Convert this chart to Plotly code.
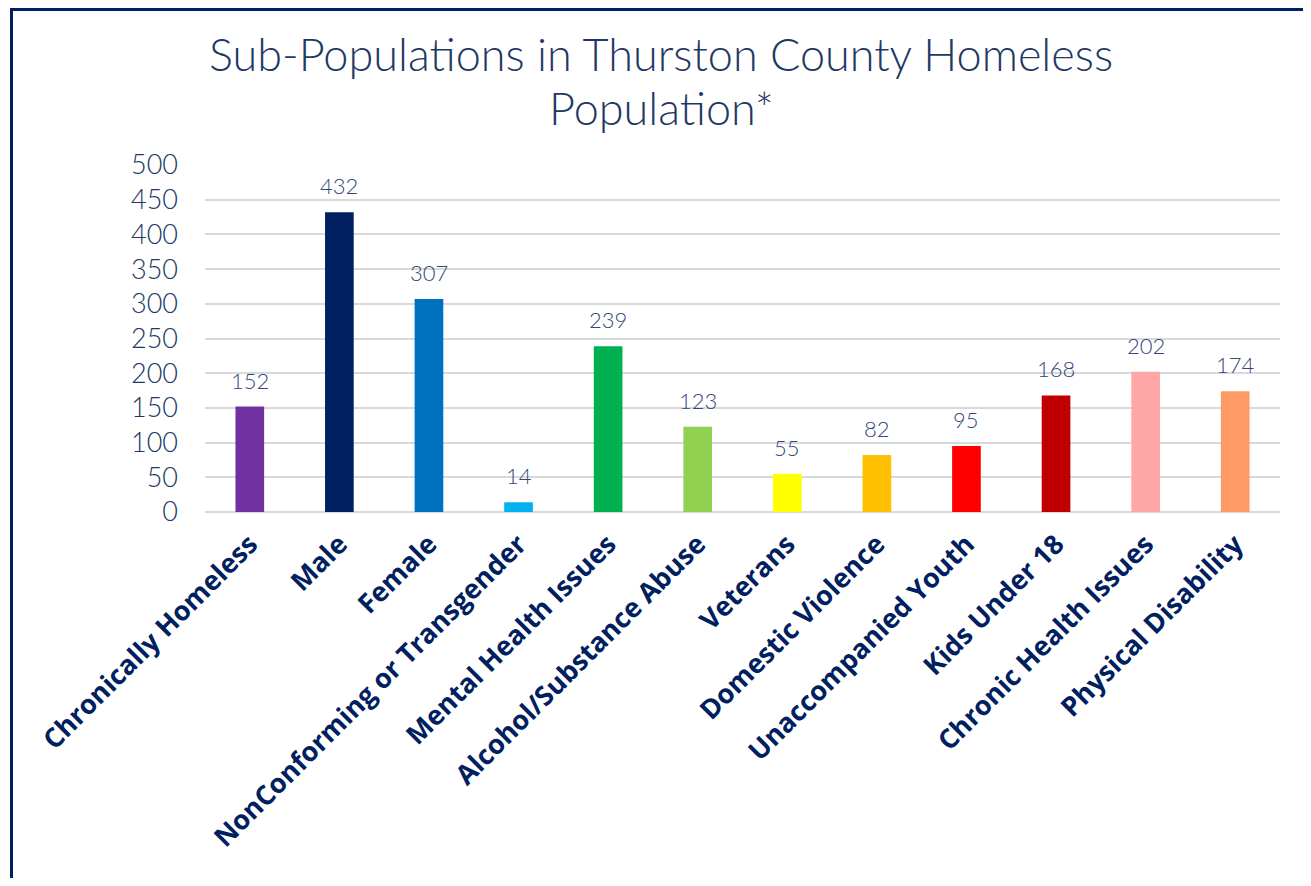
import plotly.graph_objects as go

categories = ["Chronically Homeless", "Male", "Female", "NonConforming or Transgender",
              "Mental Health Issues", "Alcohol/Substance Abuse", "Veterans",
              "Domestic Violence", "Unaccompanied Youth", "Kids Under 18",
              "Chronic Health Issues", "Physical Disability"]
counts = [152, 432, 307, 14, 239, 123, 55, 82, 95, 168, 202, 174]
bar_colors = ["#7030A0", "#002060", "#0070C0", "#00B0F0", "#00B050", "#92D050",
              "#FFFF00", "#FFC000", "#FF0000", "#C00000", "#FFA7A7", "#FF9966"]
title_lines = ["Sub-Populations in Thurston County Homeless", "Population*"]

navy = "#1F3864"
# the page body adds an 8px margin, so the figure is kept smaller to avoid scrollbars
W, H = 1303, 870
L, R, T, B = 197, 31, 157, 366


def fx(p):
    # figure pixel -> paper x
    return (p - L) / (W - L - R)


def fy(p):
    # figure pixel -> paper y
    return (H - B - p) / (H - T - B)


fig = go.Figure(go.Bar(x=categories, y=counts, marker_color=bar_colors,
                       marker_line_width=0, width=0.32))

for c, v in zip(categories, counts):
    fig.add_annotation(x=c, y=v, text=str(v), showarrow=False, yanchor="bottom",
                       yshift=11, font=dict(size=22, color="#33477A", family="Lato",
                                            weight=300))

for line, ypix in zip(title_lines, [46, 100]):
    fig.add_annotation(xref="paper", yref="paper", x=fx(653), y=fy(ypix), text=line,
                       showarrow=False, xanchor="center", yanchor="middle", borderpad=0,
                       font=dict(size=45, color=navy, family="Lato", weight=300))

fig.add_shape(type="rect", xref="paper", yref="paper",
              x0=fx(3.5), x1=fx(1298.5), y0=fy(H + 20), y1=fy(1.5),
              line=dict(color="#002060", width=3), fillcolor="rgba(0,0,0,0)",
              layer="above")

fig.update_layout(
    width=W, height=H,
    margin=dict(l=L, r=R, t=T, b=B),
    paper_bgcolor="white", plot_bgcolor="white",
    showlegend=False,
    yaxis=dict(range=[0, 500], dtick=50, showgrid=True, gridcolor="#D9D9D9",
               gridwidth=2, zeroline=True, zerolinecolor="#D9D9D9", zerolinewidth=2,
               tickfont=dict(size=27, color="#203864", family="Lato", weight=300),
               ticks="", ticklabelstandoff=26, showline=False),
    xaxis=dict(tickangle=-45, tickfont=dict(size=27, color="#002060", family="Open Sans",
                                            weight="bold"),
               showline=False, ticks="", ticklabelstandoff=10),
)

fig.write_html("out.html")
